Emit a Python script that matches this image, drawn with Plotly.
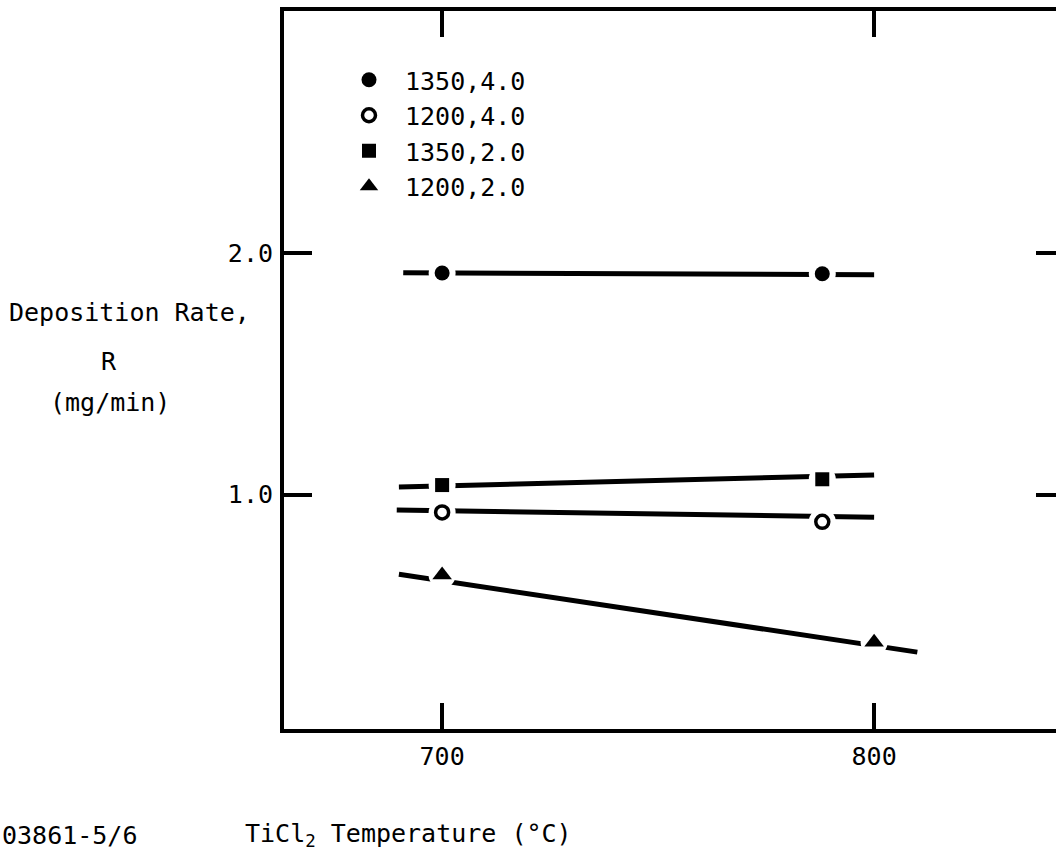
import plotly.graph_objects as go

# ---- data ----
series_names = ["1350,4.0", "1200,4.0", "1350,2.0", "1200,2.0"]
temp_pts = [[700, 788], [700, 788], [700, 788], [700, 800]]
rate_pts = [[1.916, 1.913], [0.926, 0.887], [1.039, 1.063], [0.667, 0.389]]
fit_x = [[691, 800], [689.5, 800], [690, 800], [690, 810]]
fit_y = [[1.917, 1.909], [0.936, 0.906], [1.031, 1.081], [0.670, 0.348]]
x_ticks = [700, 800]
x_ticktext = ["700", "800"]
y_ticks = [1.0, 2.0]
y_ticktext = ["1.0", "2.0"]

symbols = ["circle", "circle-open", "square", "triangle-up"]
sizes = [15, 13, 14, 17]

W, H = 1056, 857
L, R, T, B = 284, 1056, 11, 729
FONT = "DejaVu Sans Mono"
FS = 25


def px(x):
    return (x - L) / (R - L)


def py(y):
    return (B - y) / (B - T)


fig = go.Figure()

# fit lines
for fx, fy in zip(fit_x, fit_y):
    fig.add_trace(go.Scatter(x=fx, y=fy, mode="lines",
                             line=dict(color="black", width=5),
                             showlegend=False, hoverinfo="skip"))
# white halos creating gaps around points
for tx, ry in zip(temp_pts, rate_pts):
    fig.add_trace(go.Scatter(x=tx, y=ry, mode="markers",
                             marker=dict(color="white", size=27, symbol="circle"),
                             showlegend=False, hoverinfo="skip"))
# markers
for name, tx, ry, sym, sz in zip(series_names, temp_pts, rate_pts, symbols, sizes):
    if sym == "circle-open":
        mk = dict(symbol=sym, size=sz, color="black", line=dict(width=3.5, color="black"))
    else:
        mk = dict(symbol=sym, size=sz, color="black", line=dict(width=0))
    fig.add_trace(go.Scatter(x=tx, y=ry, mode="markers", name=name, marker=mk))

# invisible trace for right-side tick axis
fig.add_trace(go.Scatter(x=[700], y=[1.0], yaxis="y2", mode="markers",
                         marker=dict(opacity=0), showlegend=False, hoverinfo="skip"))

fig.update_layout(
    width=W, height=H,
    margin=dict(l=L, r=W - R, t=T, b=H - B, autoexpand=False),
    paper_bgcolor="white", plot_bgcolor="white",
    font=dict(family=FONT, size=FS, color="black"),
    xaxis=dict(range=[663.4, 842.1], tickvals=x_ticks, ticktext=x_ticktext,
               ticks="inside", ticklen=26, tickwidth=4, tickcolor="black",
               showline=True, linewidth=4, linecolor="black", mirror="ticks",
               showgrid=False, zeroline=False, ticklabelstandoff=2),
    yaxis=dict(range=[0.03, 3.0], tickvals=y_ticks, ticktext=y_ticktext,
               ticks="inside", ticklen=28, tickwidth=4, tickcolor="black",
               showline=True, linewidth=4, linecolor="black", mirror=False,
               showgrid=False, zeroline=False, ticklabelstandoff=2),
    yaxis2=dict(range=[0.03, 3.0], overlaying="y", side="right",
                tickvals=y_ticks, ticks="inside", ticklen=20, tickwidth=4,
                tickcolor="black", showticklabels=False, showline=False,
                showgrid=False, zeroline=False),
    legend=dict(x=px(333), y=py(57), xanchor="left", yanchor="top",
                bgcolor="rgba(0,0,0,0)", font=dict(family=FONT, size=FS),
                itemwidth=62, tracegroupgap=0),
    showlegend=True,
)

ann = [
    ("Deposition Rate,", 129, 312, "center"),
    ("R", 109, 361, "center"),
    ("(mg/min)", 110, 402, "center"),
    ("03861-5/6", 0, 835, "left"),
    ("TiCl<sub>2</sub> Temperature (°C)", 243, 835, "left"),
]
for text, x, y, anchor in ann:
    fig.add_annotation(text=text, x=px(x), y=py(y), xref="paper", yref="paper",
                       xanchor=anchor, yanchor="middle", showarrow=False,
                       font=dict(family=FONT, size=FS, color="black"))

fig.write_html("out.html")
